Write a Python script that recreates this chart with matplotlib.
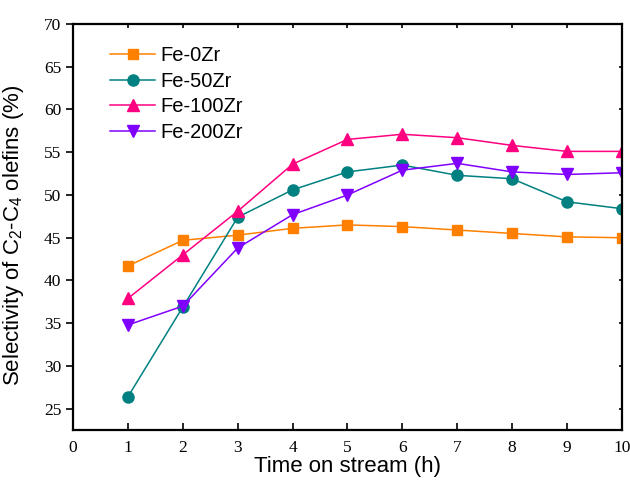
import matplotlib
matplotlib.use('Agg')
import matplotlib.pyplot as plt
from matplotlib.lines import TICKLEFT

### Data
hours = [1, 2, 3, 4, 5, 6, 7, 8, 9, 10]
fe_0zr   = [41.7, 44.7, 45.3, 46.1, 46.5, 46.3, 45.9, 45.5, 45.1, 45.0]
fe_50zr  = [26.4, 36.9, 47.4, 50.6, 52.7, 53.5, 52.3, 51.9, 49.2, 48.4]
fe_100zr = [37.9, 43.0, 48.1, 53.6, 56.5, 57.1, 56.7, 55.8, 55.1, 55.1]
fe_200zr = [34.8, 37.0, 43.8, 47.7, 50.0, 52.9, 53.7, 52.7, 52.4, 52.6]
labels   = ['Fe-0Zr', 'Fe-50Zr', 'Fe-100Zr', 'Fe-200Zr']

series  = [fe_0zr, fe_50zr, fe_100zr, fe_200zr]
colors  = ['#ff8000', '#008080', '#ff0080', '#8000ff']
markers = ['s', 'o', '^', 'v']
msizes  = [7, 8, 9, 9]

plt.rcParams['mathtext.fontset'] = 'custom'
plt.rcParams['mathtext.rm'] = 'Liberation Sans'
plt.rcParams['mathtext.it'] = 'Liberation Sans'

fig = plt.figure(figsize=(6.3, 4.8), dpi=100)
ax  = fig.add_axes([0.116, 0.104, 0.871, 0.846])

for y, c, m, ms, lab in zip(series, colors, markers, msizes, labels):
	ax.plot(hours, y, color=c, marker=m, markersize=ms, linewidth=1.1,
			label=lab)

ax.set_xlim(0, 10)
ax.set_ylim(22.5, 70)
ax.set_xticks(range(0, 11))
ax.set_yticks(range(25, 71, 5))

for s in ax.spines.values():
	s.set_linewidth(1.6)

ax.tick_params(axis='x', direction='in', top=True, length=5, width=1.2)
ax.tick_params(axis='y', direction='out', length=5, width=1.2, right=True)
for lbl in ax.get_xticklabels() + ax.get_yticklabels():
	lbl.set_fontfamily('Liberation Serif')
	lbl.set_fontsize(12.5)
ax.tick_params(axis='x', pad=7)

ax.set_xlabel('Time on stream (h)', fontfamily='Liberation Sans',
			  fontsize=16, labelpad=0)
ax.set_ylabel('Selectivity of C$_2$-C$_4$ olefins (%)',
			  fontfamily='Liberation Sans', fontsize=16)
ax.yaxis.set_label_coords(-0.085, 0.48)

ax.legend(loc='upper left', bbox_to_anchor=(0.035, 0.99), frameon=False,
		  prop={'family': 'Liberation Sans', 'size': 14.5},
		  handlelength=2.2, handletextpad=0.3, labelspacing=0.33)

### short inner ticks on top and right spines
for t in ax.xaxis.get_major_ticks():
	t.tick2line.set_markersize(3)
for t in ax.yaxis.get_major_ticks():
	t.tick2line.set_marker(TICKLEFT)
	t.tick2line.set_markersize(2.5)

fig.savefig('out.png', dpi=100)
